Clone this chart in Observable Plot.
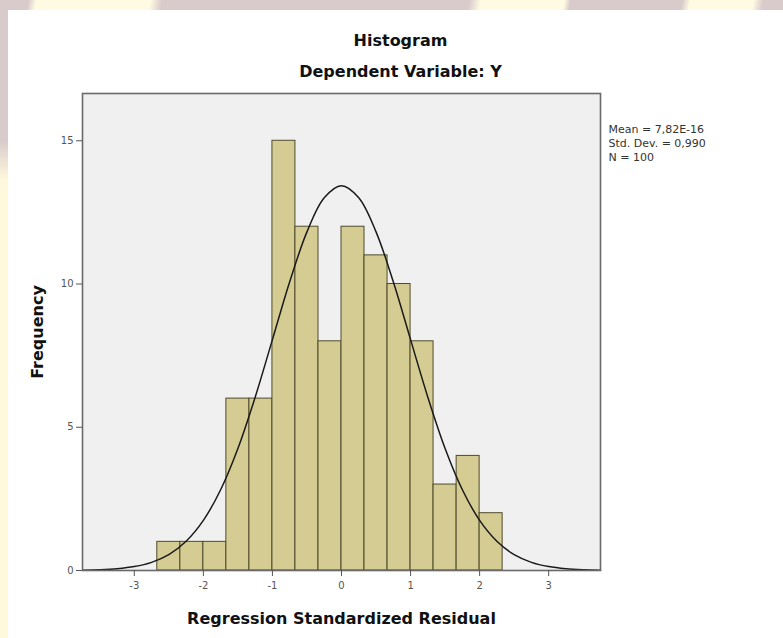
<!DOCTYPE html>
<html>
<head>
<meta charset="utf-8">
<script src="https://cdn.jsdelivr.net/npm/d3@7"></script>
<script src="https://cdn.jsdelivr.net/npm/@observablehq/plot@0.6"></script>
<style>
  html, body { margin: 0; padding: 0; }
  body { width: 783px; height: 638px; overflow: hidden; position: relative; background: #d9cacb; font-family: "DejaVu Sans", sans-serif; }
  #topband { position: absolute; left: 0; top: 0; width: 783px; height: 10px;
    background: linear-gradient(100deg, #d9cacb 0px, #d9cacb 28px, #fffbe2 36px, #fffbe2 148px, #d9cacb 160px, #d9cacb 462px, #fffbe2 474px, #fffbe2 556px, #d9cacb 562px, #d9cacb 672px, #fffbe2 680px, #fffbe2 742px, #d9cacb 752px); }
  #leftband { position: absolute; left: 0; top: 0; width: 8px; height: 638px;
    background: linear-gradient(180deg, #d9cacb 0px, #d9cacb 140px, #fff8dc 180px, #fff8dc 638px); }
  #panel { position: absolute; left: 8px; top: 10px; width: 775px; height: 628px; background: #ffffff; }
  #chart { position: absolute; left: 0; top: 0; }
</style>
</head>
<body>
<div id="topband"></div>
<div id="leftband"></div>
<div id="panel"></div>
<div id="chart"></div>
<script>
// Histogram bins (lower edges, upper edges) and frequencies
const binLower = [-2.667, -2.333, -2.0, -1.667, -1.333, -1.0, -0.667, -0.333, 0.0, 0.333, 0.667, 1.0, 1.333, 1.667, 2.0];
const binUpper = [-2.333, -2.0, -1.667, -1.333, -1.0, -0.667, -0.333, 0.0, 0.333, 0.667, 1.0, 1.333, 1.667, 2.0, 2.333];
const counts   = [1, 1, 1, 6, 6, 15, 12, 8, 12, 11, 10, 8, 3, 4, 2];

// Normal curve
const curveX = [-3.75, -3.5, -3.25, -3.0, -2.75, -2.5, -2.25, -2.0, -1.75, -1.5, -1.25, -1.0, -0.75, -0.5, -0.25, 0.0,
                0.25, 0.5, 0.75, 1.0, 1.25, 1.5, 1.75, 2.0, 2.25, 2.5, 2.75, 3.0, 3.25, 3.5, 3.75];
const curveY = [0.01, 0.026, 0.061, 0.136, 0.284, 0.553, 1.02, 1.75, 2.82, 4.26, 6.05, 8.06, 10.08, 11.82, 13.01, 13.43,
                13.01, 11.82, 10.08, 8.06, 6.05, 4.26, 2.82, 1.75, 1.02, 0.553, 0.284, 0.136, 0.061, 0.026, 0.01];

const xTicks = [-3, -2, -1, 0, 1, 2, 3];
const yTicks = [0, 5, 10, 15];

const titleText = "Histogram";
const subtitleText = "Dependent Variable: Y";
const xLabel = "Regression Standardized Residual";
const yLabel = "Frequency";
const statsText = "Mean = 7,82E-16\nStd. Dev. = 0,990\nN = 100";

const bins = counts.map((c, i) => ({x0: binLower[i], x1: binUpper[i], count: c}));
const curve = curveX.map((x, i) => ({x, y: curveY[i]}));

const font = "'DejaVu Sans', sans-serif";

const chart = Plot.plot({
  width: 783,
  height: 638,
  marginLeft: 82,
  marginRight: 183,
  marginTop: 93,
  marginBottom: 68,
  style: { background: "transparent", fontFamily: font, fontSize: "10px", color: "#555" },
  x: { domain: [-3.75, 3.75] },
  y: { domain: [0, 16.65] },
  marks: [
    Plot.frame({ fill: "#f0f0f0", stroke: null }),
    Plot.rectY(bins, { x1: "x0", x2: "x1", y: "count", fill: "#d5cc93", stroke: "#4f4a2b", strokeWidth: 1 }),
    Plot.line(curve, { x: "x", y: "y", curve: "catmull-rom", stroke: "#1a1a1a", strokeWidth: 1.5 }),
    Plot.frame({ stroke: "#6a6a6a", strokeWidth: 1.6 }),
    Plot.axisX({ ticks: xTicks, tickSize: 6, tickPadding: 5, tickFormat: d => String(d), label: null, stroke: "#555", fill: "#555" }),
    Plot.axisY({ ticks: yTicks, tickSize: 6, tickPadding: 3, tickFormat: d => String(d), label: null, stroke: "#555", fill: "#555" }),
    Plot.text([xLabel], { frameAnchor: "bottom", dy: 48, fontWeight: "bold", fontSize: 16, fill: "#111", textAnchor: "middle", lineAnchor: "middle" }),
    Plot.text([yLabel], { frameAnchor: "left", dx: -45, rotate: -90, fontWeight: "bold", fontSize: 16, fill: "#111", textAnchor: "middle", lineAnchor: "middle" }),
    Plot.text([titleText], { frameAnchor: "top", dx: 59, dy: -53, fontWeight: "bold", fontSize: 16, fill: "#111", textAnchor: "middle", lineAnchor: "middle" }),
    Plot.text([subtitleText], { frameAnchor: "top", dx: 59, dy: -22, fontWeight: "bold", fontSize: 16, fill: "#111", textAnchor: "middle", lineAnchor: "middle" }),
    Plot.text([statsText], { frameAnchor: "top-right", dx: 8, dy: 29, textAnchor: "start", lineAnchor: "top", fontSize: 11, lineHeight: 1.3, fill: "#333" })
  ]
});
document.getElementById("chart").appendChild(chart);
</script>
</body>
</html>
